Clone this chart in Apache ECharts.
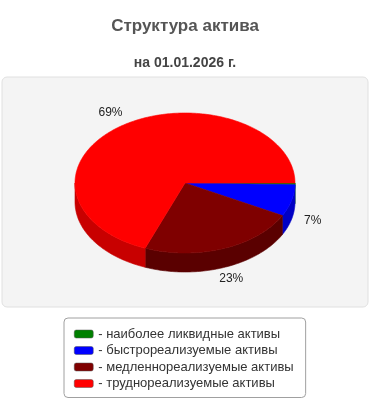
<!DOCTYPE html>
<html><head><meta charset="utf-8">
<script src="https://cdn.jsdelivr.net/npm/echarts@6/dist/echarts.min.js"></script>
<style>html,body{margin:0;padding:0;background:#fff}#c{width:370px;height:400px}</style>
</head><body><div id="c"></div>
<script>
const categories = ['наиболее ликвидные активы', 'быстрореализуемые активы', 'медленнореализуемые активы', 'труднореализуемые активы'];
const values = [0.4, 7.3, 23.2, 69.1];
const topColors = ['#008000', '#0000FF', '#7F0000', '#FF0000'];
const sideColors = ['#005a00', '#0000C4', '#5A0000', '#C80000'];
const titleText = 'Структура актива';
const subtitleText = 'на 01.01.2026 г.';

const total = values.reduce((a, b) => a + b, 0);
const starts = [];
values.reduce((acc, v, i) => { starts[i] = acc; return acc + v; }, 0);

function arcPts(cx, cy, rx, ry, a0, a1, dy) {
  const pts = [];
  const n = Math.max(2, Math.ceil((a1 - a0) / (Math.PI / 180)));
  for (let k = 0; k <= n; k++) {
    const a = a0 + (a1 - a0) * k / n;
    pts.push([cx + rx * Math.cos(a), cy + ry * Math.sin(a) + dy]);
  }
  return pts;
}

function makeRender(idx) {
  return function (params, api) {
    const W = api.getWidth();
    const cx = W / 2, cy = 183, rx = 110, ry = 70, depth = 19;
    const v = api.value(0);
    const a0 = starts[idx] / total * Math.PI * 2;
    const a1 = a0 + v / total * Math.PI * 2;
    const children = [];
    const s0 = Math.max(a0, 0), s1 = Math.min(a1, Math.PI);
    if (s1 > s0) {
      const top = arcPts(cx, cy, rx, ry, s0, s1, 0);
      const bot = arcPts(cx, cy, rx, ry, s0, s1, depth).reverse();
      children.push({ type: 'polygon', z2: 1, shape: { points: top.concat(bot) },
        style: { fill: sideColors[idx], stroke: sideColors[idx], lineWidth: 0.6 } });
    }
    const face = [[cx, cy]].concat(arcPts(cx, cy, rx, ry, a0, a1, 0));
    children.push({ type: 'polygon', z2: 10, shape: { points: face },
      style: { fill: topColors[idx], stroke: topColors[idx], lineWidth: 0.6 } });
    const pct = Math.round(v / total * 100);
    if (pct >= 1) {
      const m = (a0 + a1) / 2;
      const s = Math.sin(m);
      children.push({ type: 'text', z2: 20, style: {
        text: pct + '%', x: cx + rx * 1.2 * Math.cos(m), y: cy + ry * 1.22 * s + (s > 0 ? depth * 0.85 : 0),
        fill: '#222', font: '12px "Liberation Sans", Arial, sans-serif', align: 'center', verticalAlign: 'middle' } });
    }
    return { type: 'group', children };
  };
}

const chart = echarts.init(document.getElementById('c'), null, { renderer: 'canvas' });
chart.setOption({
  animation: false,
  title: [
    { text: titleText, left: 'center', top: 13, textStyle: { fontFamily: 'Liberation Sans', fontSize: 17, fontWeight: 'bold', color: '#555' } },
    { text: subtitleText, left: 'center', top: 51, textStyle: { fontFamily: 'Liberation Sans', fontSize: 14, fontWeight: 'bold', color: '#444' } }
  ],
  graphic: [{ type: 'rect', z: 0, shape: { x: 2, y: 77, width: 366, height: 230, r: 5 }, style: { fill: '#f4f4f4', stroke: '#e0e0e0', lineWidth: 1 } }],
  legend: {
    orient: 'vertical', left: 64, top: 318, padding: [9, 12, 7, 10],
    backgroundColor: '#fff', borderColor: '#a0a0a0', borderWidth: 1, borderRadius: 4,
    icon: 'roundRect', itemWidth: 19, itemHeight: 8, itemGap: 2.5, selectedMode: false,
    itemStyle: { borderColor: '#555', borderWidth: 0.5 },
    textStyle: { fontFamily: 'Liberation Sans', fontSize: 13, color: '#333', lineHeight: 14 },
    formatter: n => '- ' + n,
    data: categories
  },
  series: categories.map((name, i) => ({
    type: 'custom', name, coordinateSystem: 'none', z: 2,
    itemStyle: { color: topColors[i] },
    renderItem: makeRender(i),
    data: [[values[i]]]
  }))
});
</script></body></html>
